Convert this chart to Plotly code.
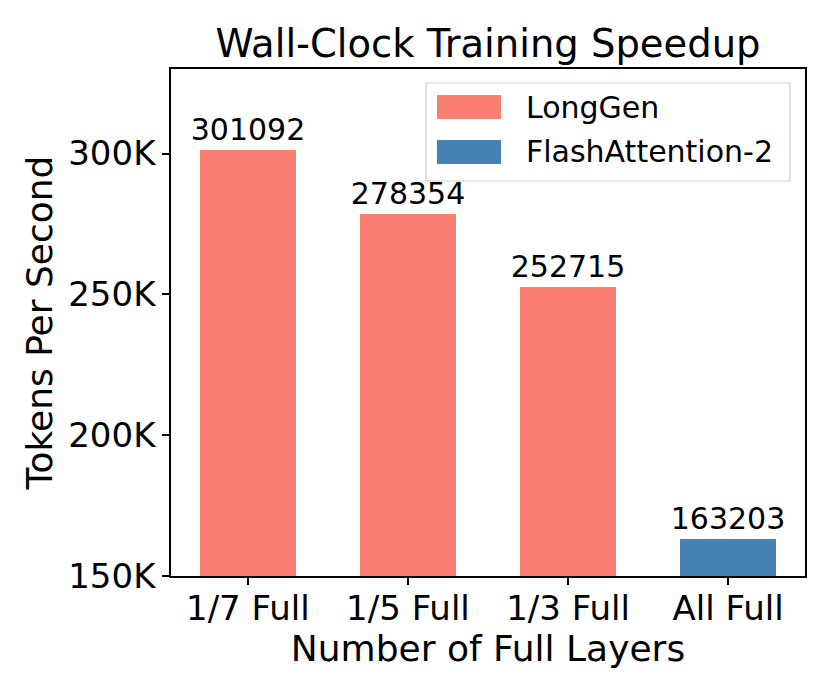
import plotly.graph_objects as go

categories = ["1/7 Full", "1/5 Full", "1/3 Full", "All Full"]
values = [301092, 278354, 252715, 163203]
series_names = ["LongGen", "LongGen", "LongGen", "FlashAttention-2"]
legend_names = ["LongGen", "FlashAttention-2"]
colors = {"LongGen": "#FA8072", "FlashAttention-2": "#4682B4"}
ytick_vals = [150000, 200000, 250000, 300000]
ytick_text = ["150K", "200K", "250K", "300K"]

W, H = 830, 692
L, R, T, B = 171, 25, 69, 116
PW, PH = W - L - R, H - T - B
FONT = "DejaVu Sans"

def px(x):
    return (x - L) / PW

def py(y):
    return (H - B - y) / PH

fig = go.Figure()
xs = list(range(len(categories)))
fig.add_trace(go.Bar(
    x=xs, y=values, width=0.6,
    marker=dict(color=[colors[s] for s in series_names], line=dict(width=0)),
    text=[str(v) for v in values], textposition="outside",
    constraintext="none", cliponaxis=False,
    textfont=dict(family=FONT, size=30, color="black"),
    showlegend=False,
))

shapes = []
annotations = []
# legend box
shapes.append(dict(type="rect", xref="paper", yref="paper",
                   x0=px(426), x1=px(790), y0=py(181), y1=py(83),
                   line=dict(color="#d0d0d0", width=1.2), fillcolor="rgba(255,255,255,0.8)"))
for i, name in enumerate(legend_names):
    top = 95 + i * 45
    shapes.append(dict(type="rect", xref="paper", yref="paper",
                       x0=px(437), x1=px(501), y0=py(top + 24), y1=py(top),
                       line=dict(width=0), fillcolor=colors[name]))
    annotations.append(dict(x=px(524), y=py(top + 12), xref="paper", yref="paper",
                            text=name, showarrow=False, xanchor="left", yanchor="middle",
                            font=dict(family=FONT, size=30, color="black")))

fig.update_layout(
    width=W, height=H,
    margin=dict(l=L, r=R, t=T, b=B, autoexpand=False),
    paper_bgcolor="white", plot_bgcolor="white",
    font=dict(family=FONT, color="black"),
    title=dict(text="Wall-Clock Training Speedup", x=px(488), xref="paper",
               y=1 - 44 / H, yref="container", xanchor="center", yanchor="middle",
               font=dict(family=FONT, size=38.5, color="black")),
    xaxis=dict(range=[-0.48, 3.48], tickmode="array", tickvals=xs, ticktext=categories,
               showgrid=False, zeroline=False, showline=True, linecolor="black", linewidth=1.5,
               mirror=True, ticks="outside", ticklen=7, tickwidth=1.5, tickcolor="black",
               automargin=False, ticklabelstandoff=-6,
               tickfont=dict(family=FONT, size=34, color="black"),
               title=dict(text="Number of Full Layers", standoff=2,
                          font=dict(family=FONT, size=36, color="black"))),
    yaxis=dict(range=[150000, 330000], tickmode="array", tickvals=ytick_vals, ticktext=ytick_text,
               showgrid=False, zeroline=False, showline=True, linecolor="black", linewidth=1.5,
               mirror=True, ticks="outside", ticklen=7, tickwidth=1.5, tickcolor="black",
               automargin=False,
               tickfont=dict(family=FONT, size=34, color="black"),
               title=dict(text="Tokens Per Second", standoff=5,
                          font=dict(family=FONT, size=36, color="black"))),
    shapes=shapes, annotations=annotations,
    bargap=0,
)

fig.write_html("out.html", config={"displayModeBar": False},
               post_script="document.body.style.margin='0';document.body.style.padding='0';")
